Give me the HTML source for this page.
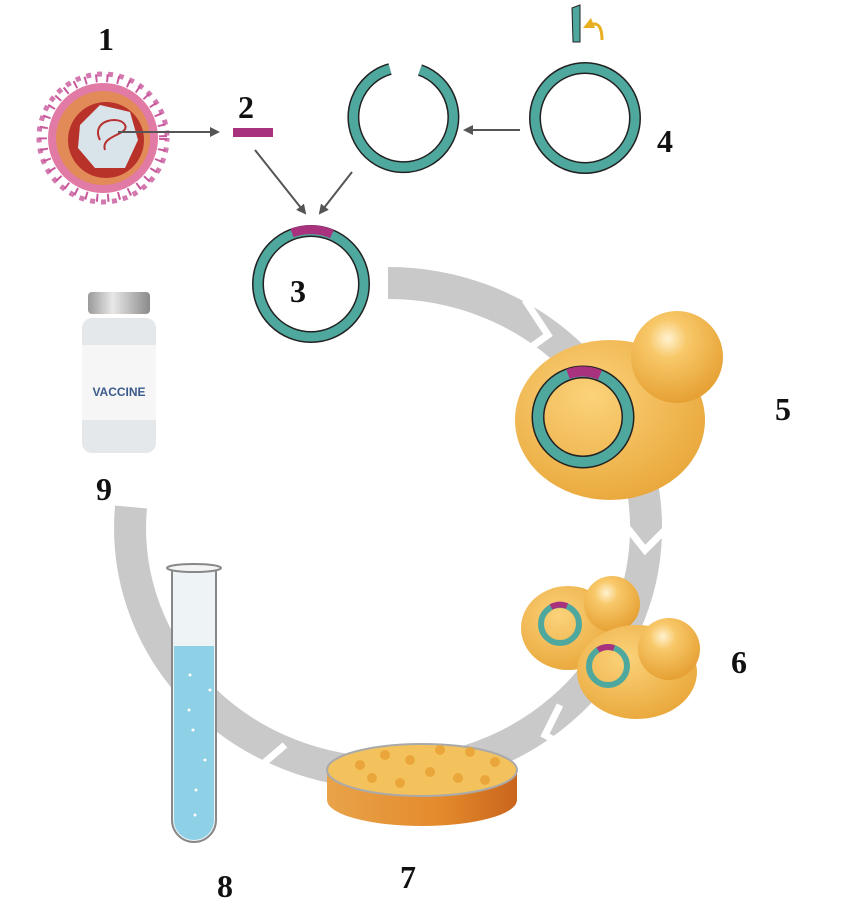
<!DOCTYPE html>
<html><head><meta charset="utf-8"><style>
html,body{margin:0;padding:0;background:#fff;}
svg{display:block;}
.n{font-family:"Liberation Serif",serif;font-weight:bold;font-size:32px;fill:#111;}
</style></head><body>
<svg width="850" height="912" viewBox="0 0 850 912" xmlns="http://www.w3.org/2000/svg">
<defs>
<marker id="ah" markerWidth="10" markerHeight="10" refX="8" refY="5" orient="auto" markerUnits="userSpaceOnUse"><path d="M0,0 L10,5 L0,10 z" fill="#555"/></marker>
<radialGradient id="yg" cx="0.4" cy="0.35" r="0.7"><stop offset="0" stop-color="#fbd27a"/><stop offset="1" stop-color="#e9a73a"/></radialGradient>
<radialGradient id="bg" cx="0.4" cy="0.3" r="0.7"><stop offset="0" stop-color="#fff2d0"/><stop offset="0.3" stop-color="#f8c869"/><stop offset="1" stop-color="#e6a134"/></radialGradient>
<linearGradient id="dish" x1="0" x2="1"><stop offset="0" stop-color="#e9a349"/><stop offset="0.6" stop-color="#e48a2c"/><stop offset="1" stop-color="#c9651c"/></linearGradient>
<linearGradient id="cap" x1="0" x2="1"><stop offset="0" stop-color="#9a9a9a"/><stop offset="0.4" stop-color="#e8e8e8"/><stop offset="1" stop-color="#8a8a8a"/></linearGradient>
</defs>

<!-- big cycle arrow -->
<path d="M388,283 A258,245 0 1 1 131,507" fill="none" stroke="#c9c9c9" stroke-width="32"/>
<g fill="none" stroke="#fff" stroke-width="7">
<polyline points="525,300 548,335 520,355"/>
<polyline points="625,525 645,550 670,525"/>
<polyline points="560,705 545,735 575,752"/>
<polyline points="285,745 258,768 282,790"/>
</g>

<!-- virus -->
<g>
<circle cx="103" cy="138" r="60" fill="none" stroke="#c8589c" stroke-width="8" stroke-dasharray="2 9"/>
<circle cx="103" cy="138" r="64" fill="none" stroke="#c8589c" stroke-width="5" stroke-dasharray="5 6" stroke-dashoffset="1.5" opacity="0.8"/>
<circle cx="103" cy="138" r="55" fill="#e27aa6"/>
<circle cx="103" cy="138" r="47" fill="#e28a58"/>
<circle cx="106" cy="140" r="38" fill="#b8322a"/>
<polygon points="80,125 100,105 130,112 138,140 125,168 95,168 78,148" fill="#d8e4ea"/>
<path d="M100,140 c-10,-20 20,-25 25,-15 c5,10 -25,10 -20,25" fill="none" stroke="#b83030" stroke-width="2"/>
</g>
<text class="n" x="98" y="50">1</text>

<text class="n" x="238" y="118">2</text>
<rect x="233" y="128" width="40" height="9" fill="#a8327e"/>
<line x1="118" y1="132" x2="218" y2="132" stroke="#555" stroke-width="2" marker-end="url(#ah)"/>

<!-- open plasmid -->
<path d="M390,69 A50,50 0 1 0 420,70" fill="none" stroke="#222" stroke-width="12"/>
<path d="M390,69 A50,50 0 1 0 420,70" fill="none" stroke="#4fa89e" stroke-width="9"/>
<!-- plasmid 4 -->
<circle cx="585" cy="118" r="50" fill="none" stroke="#222" stroke-width="12"/>
<circle cx="585" cy="118" r="50" fill="none" stroke="#4fa89e" stroke-width="9"/>
<path d="M572,8 L580,5 L580,42 L573,42 z" fill="#4fa89e" stroke="#222" stroke-width="1"/>
<path d="M590,25 q12,-5 12,15" fill="none" stroke="#e8b020" stroke-width="3"/>
<path d="M583,28 l8,-10 l4,10 z" fill="#e8b020"/>
<text class="n" x="657" y="152">4</text>
<line x1="520" y1="130" x2="465" y2="130" stroke="#555" stroke-width="2" marker-end="url(#ah)"/>

<line x1="255" y1="150" x2="305" y2="213" stroke="#555" stroke-width="2" marker-end="url(#ah)"/>
<line x1="352" y1="172" x2="320" y2="213" stroke="#555" stroke-width="2" marker-end="url(#ah)"/>

<!-- plasmid 3 -->
<circle cx="311" cy="284" r="53" fill="none" stroke="#222" stroke-width="12"/>
<circle cx="311" cy="284" r="53" fill="none" stroke="#4fa89e" stroke-width="9"/>
<path d="M292,233 A53,53 0 0 1 332,234" fill="none" stroke="#a8327e" stroke-width="9"/>
<text class="n" x="290" y="302">3</text>

<!-- vaccine -->
<rect x="88" y="292" width="62" height="22" rx="4" fill="url(#cap)"/>
<rect x="82" y="318" width="74" height="135" rx="10" fill="#e4e8ea"/>
<rect x="82" y="345" width="74" height="75" fill="#f6f6f6"/>
<text x="119" y="396" text-anchor="middle" font-family="Liberation Sans,sans-serif" font-weight="bold" font-size="12" fill="#3a5a8c">VACCINE</text>
<text class="n" x="96" y="500">9</text>

<!-- cell 5 -->
<ellipse cx="610" cy="420" rx="95" ry="80" fill="url(#yg)"/>
<circle cx="677" cy="357" r="46" fill="url(#bg)"/>
<circle cx="583" cy="417" r="45" fill="none" stroke="#222" stroke-width="13"/>
<circle cx="583" cy="417" r="45" fill="none" stroke="#4fa89e" stroke-width="10"/>
<path d="M568,374 A45,45 0 0 1 600,375" fill="none" stroke="#a8327e" stroke-width="10"/>
<text class="n" x="775" y="420">5</text>

<!-- cells 6 -->
<ellipse cx="568" cy="628" rx="47" ry="42" fill="url(#yg)"/>
<circle cx="612" cy="604" r="28" fill="url(#bg)"/>
<circle cx="560" cy="624" r="19" fill="none" stroke="#4fa89e" stroke-width="6"/>
<ellipse cx="637" cy="672" rx="60" ry="47" fill="url(#yg)"/>
<circle cx="669" cy="649" r="31" fill="url(#bg)"/>
<circle cx="608" cy="666" r="19" fill="none" stroke="#4fa89e" stroke-width="6"/>
<path d="M598,650 A19,19 0 0 1 614,648" fill="none" stroke="#a8327e" stroke-width="6"/>
<path d="M551,607 A19,19 0 0 1 567,606" fill="none" stroke="#a8327e" stroke-width="6"/>
<text class="n" x="731" y="673">6</text>

<!-- petri dish -->
<path d="M327,770 L327,800 A95,26 0 0 0 517,800 L517,770 z" fill="url(#dish)"/>
<ellipse cx="422" cy="770" rx="95" ry="26" fill="#f4c25c" stroke="#aaa" stroke-width="2"/>
<g fill="#eaa63a">
<circle cx="360" cy="765" r="5"/><circle cx="385" cy="755" r="5"/><circle cx="410" cy="760" r="5"/><circle cx="440" cy="750" r="5"/><circle cx="470" cy="752" r="5"/><circle cx="495" cy="762" r="5"/>
<circle cx="372" cy="778" r="5"/><circle cx="400" cy="783" r="5"/><circle cx="430" cy="772" r="5"/><circle cx="458" cy="778" r="5"/><circle cx="485" cy="780" r="5"/>
</g>
<text class="n" x="400" y="888">7</text>

<!-- test tube -->
<path d="M172,570 L172,820 A22,22 0 0 0 216,820 L216,570" fill="#eef3f6" stroke="#888" stroke-width="2"/>
<path d="M174,646 L214,646 L214,820 A20,20 0 0 1 174,820 z" fill="#8ed0e6"/>
<g fill="#fff"><circle cx="190" cy="675" r="1.5"/><circle cx="210" cy="690" r="1.5"/><circle cx="189" cy="710" r="1.5"/><circle cx="193" cy="730" r="1.5"/><circle cx="205" cy="760" r="1.5"/><circle cx="196" cy="790" r="1.5"/><circle cx="195" cy="815" r="1.5"/></g>
<ellipse cx="194" cy="568" rx="27" ry="4" fill="#f4f4f4" stroke="#888" stroke-width="2"/>
<text class="n" x="217" y="897">8</text>
</svg>
</body></html>
